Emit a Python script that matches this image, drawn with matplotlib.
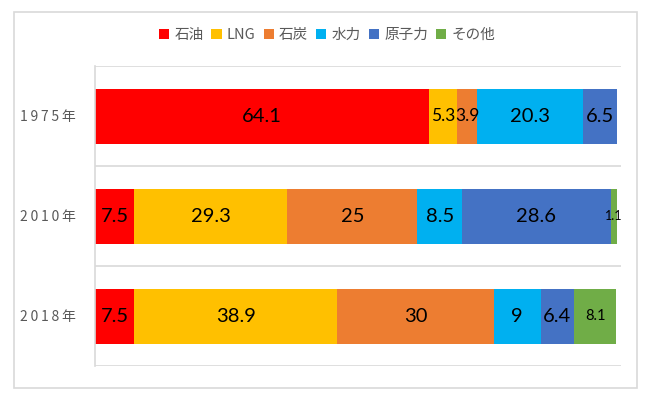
import matplotlib
matplotlib.use("Agg")
import matplotlib.pyplot as plt
from matplotlib.patches import Patch, Rectangle
import numpy as np

plt.rcParams['font.family'] = ['Noto Sans CJK JP', 'DejaVu Sans']

years = ["1975年", "2010年", "2018年"]
sources = ["石油", "LNG", "石炭", "水力", "原子力", "その他"]
oil = [64.1, 7.5, 7.5]
lng = [5.3, 29.3, 38.9]
coal = [3.9, 25, 30]
hydro = [20.3, 8.5, 9]
nuclear = [6.5, 28.6, 6.4]
other = [0, 1.1, 8.1]
label_text = [
    ["64.1", "5.3", "3.9", "20.3", "6.5", ""],
    ["7.5", "29.3", "25", "8.5", "28.6", "1.1"],
    ["7.5", "38.9", "30", "9", "6.4", "8.1"],
]

series = [oil, lng, coal, hydro, nuclear, other]
colors = ["#FF0000", "#FFC000", "#ED7D31", "#00B0F0", "#4472C4", "#70AD47"]
small_sizes = {(0, 1): 12.5, (0, 2): 12.5, (1, 5): 9, (2, 5): 10.5}

fig = plt.figure(figsize=(6.6, 3.98), dpi=100)
fig.patches.append(Rectangle((14/660, 1-388/398), (637-14)/660, (388-12)/398,
                             transform=fig.transFigure, fill=False,
                             edgecolor="#D9D9D9", linewidth=1.2))
ax = fig.add_axes([95/660, 1-366/398, (621-95)/660, 300/398])

y = np.arange(len(years))
left = np.zeros(len(years))
for s, (vals, col) in enumerate(zip(series, colors)):
    vals = np.array(vals, dtype=float)
    ax.barh(y, vals, left=left, height=0.55, color=col, edgecolor="none")
    for i, v in enumerate(vals):
        t = label_text[i][s]
        if t:
            fs = small_sizes.get((i, s), 14.5)
            ax.text(left[i] + v/2, y[i], t, ha="center", va="center",
                    fontsize=fs, color="black", family=["Lato", "DejaVu Sans"])
    left += vals

ax.set_xlim(0, 100.8)
ax.set_ylim(len(years) - 0.5, -0.5)
for edge in np.arange(-0.5, len(years), 1.0):
    ax.axhline(edge, color="#D9D9D9", linewidth=1.2, zorder=0)
for sp in ["top", "right", "bottom"]:
    ax.spines[sp].set_visible(False)
ax.spines["left"].set_color("#D9D9D9")
ax.spines["left"].set_linewidth(1.2)
ax.set_xticks([])
ax.set_yticks(y)
ax.set_yticklabels(["\u2009".join(list(yr)) for yr in years], fontsize=10, color="#595959")
ax.tick_params(axis="y", length=0, pad=14)

handles = [Patch(facecolor=c, edgecolor="none") for c in colors]
leg = fig.legend(handles, sources, loc="center", bbox_to_anchor=(327/660, 1-35/398),
                 ncol=6, frameon=False, fontsize=10.5, handlelength=0.7, handleheight=0.7,
                 handletextpad=0.35, columnspacing=0.55, labelcolor="#595959")

fig.savefig("out.png", dpi=100)
